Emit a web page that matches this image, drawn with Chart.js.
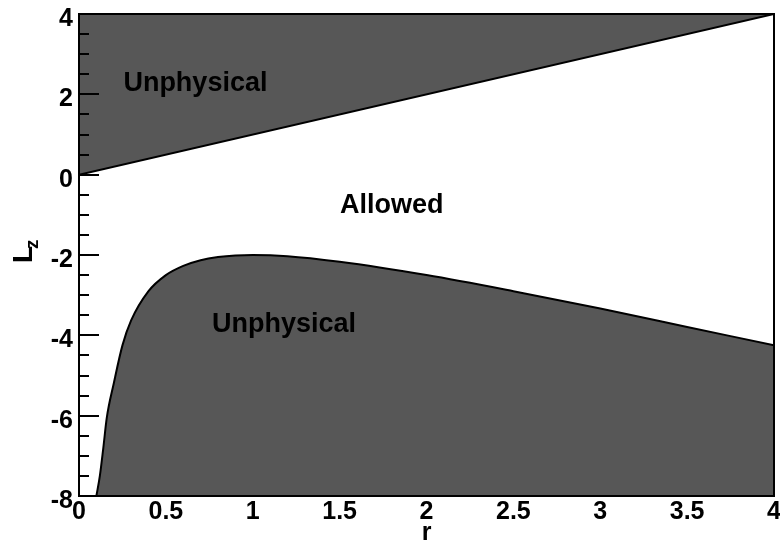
<!DOCTYPE html>
<html>
<head>
<meta charset="utf-8">
<script src="https://cdn.jsdelivr.net/npm/chart.js@4"></script>
<style>
  html, body { margin: 0; padding: 0; background: #fff; }
  #wrap { width: 780px; height: 546px; }
</style>
</head>
<body>
<div id="wrap"><canvas id="chart" width="780" height="546"></canvas></div>
<script>
// upper boundary, Lz = r (shaded above)
const rUpper = [0, 4];
const lzUpper = [0, 4];

// lower boundary (shaded below)
const rLower = [0.1, 0.12, 0.14, 0.16, 0.2, 0.25, 0.3, 0.4, 0.5, 0.6, 0.7, 0.8, 0.9, 1.0, 1.2, 1.5, 2.0, 2.5, 3.0, 3.5, 4.0];
const lzLower = [-8.0, -7.5, -6.8, -6.05, -5.2, -4.25, -3.63, -2.9, -2.5, -2.27, -2.13, -2.05, -2.01, -2.0, -2.03, -2.17, -2.5, -2.9, -3.33, -3.79, -4.25];

const xTicks = [0, 0.5, 1, 1.5, 2, 2.5, 3, 3.5, 4];
const yTicks = [-8, -6, -4, -2, 0, 2, 4];

const notes = [
    { text: "Unphysical", r: 0.67, lz: 2.28 },
    { text: "Allowed", r: 1.8, lz: -0.76 },
    { text: "Unphysical", r: 1.18, lz: -3.74 }
];

const FONT = "'Liberation Sans', Arial, Helvetica, sans-serif";
const shade = "#575757";

function toPoints(xs, ys) {
    return xs.map((x, i) => ({ x: x, y: ys[i] }));
}

// frame, minor ticks on the left axis, region labels and the Lz title
const decor = {
    id: "decor",
    afterDatasetsDraw(chart) {
        const { ctx, chartArea: a, scales: { x, y } } = chart;
        ctx.save();
        ctx.strokeStyle = "#000";
        ctx.lineWidth = 2;
        ctx.strokeRect(a.left, a.top, a.right - a.left, a.bottom - a.top);

        ctx.beginPath();
        for (let v = y.min; v <= y.max; v += 0.5) {
            const py = Math.round(y.getPixelForValue(v));
            const len = v % 2 === 0 ? 20 : 10;
            ctx.moveTo(a.left, py);
            ctx.lineTo(a.left + len, py);
        }
        ctx.stroke();

        ctx.fillStyle = "#000";
        ctx.font = "bold 27px " + FONT;
        ctx.textAlign = "center";
        ctx.textBaseline = "middle";
        notes.forEach(n => {
            ctx.fillText(n.text, x.getPixelForValue(n.r), y.getPixelForValue(n.lz));
        });

        // L with subscript z, rotated
        ctx.translate(32, 263);
        ctx.rotate(-Math.PI / 2);
        ctx.textAlign = "left";
        ctx.textBaseline = "alphabetic";
        ctx.font = "bold 28px " + FONT;
        ctx.fillText("L", 0, 0);
        ctx.font = "bold 19px " + FONT;
        ctx.fillText("z", 14, 6);
        ctx.restore();
    }
};

new Chart(document.getElementById("chart"), {
    type: "line",
    data: {
        datasets: [
            {
                data: toPoints(rUpper, lzUpper),
                borderColor: "#000",
                borderWidth: 2,
                backgroundColor: shade,
                pointRadius: 0,
                fill: "end"
            },
            {
                data: toPoints(rLower, lzLower),
                borderColor: "#000",
                borderWidth: 2,
                backgroundColor: shade,
                pointRadius: 0,
                cubicInterpolationMode: "monotone",
                fill: "start"
            }
        ]
    },
    options: {
        responsive: false,
        animation: false,
        layout: { padding: { top: 14, right: 6, left: 0, bottom: 0 } },
        plugins: {
            legend: { display: false },
            tooltip: { enabled: false }
        },
        scales: {
            x: {
                type: "linear",
                min: 0,
                max: 4,
                afterBuildTicks: s => { s.ticks = xTicks.map(v => ({ value: v })); },
                afterFit: s => {
                    s.height = 50;
                    s.paddingLeft = 0;
                    s.paddingRight = 0;
                },
                grid: { display: false, drawTicks: false },
                border: { display: false },
                ticks: {
                    color: "#000",
                    font: { family: FONT, size: 25, weight: "bold" },
                    padding: 1,
                    autoSkip: false,
                    maxRotation: 0,
                    callback: v => String(v)
                },
                title: {
                    display: true,
                    text: "r",
                    color: "#000",
                    font: { family: FONT, size: 25, weight: "bold", lineHeight: 1 },
                    padding: 0
                }
            },
            y: {
                type: "linear",
                min: -8,
                max: 4,
                afterBuildTicks: s => { s.ticks = yTicks.map(v => ({ value: v })); },
                afterFit: s => {
                    s.width = 79;
                    s.paddingTop = 0;
                    s.paddingBottom = 0;
                },
                grid: { display: false, drawTicks: false },
                border: { display: false },
                ticks: {
                    color: "#000",
                    font: { family: FONT, size: 25, weight: "bold" },
                    padding: 6,
                    labelOffset: 5,
                    autoSkip: false,
                    callback: v => String(v)
                }
            }
        }
    },
    plugins: [decor]
});
</script>
</body>
</html>
